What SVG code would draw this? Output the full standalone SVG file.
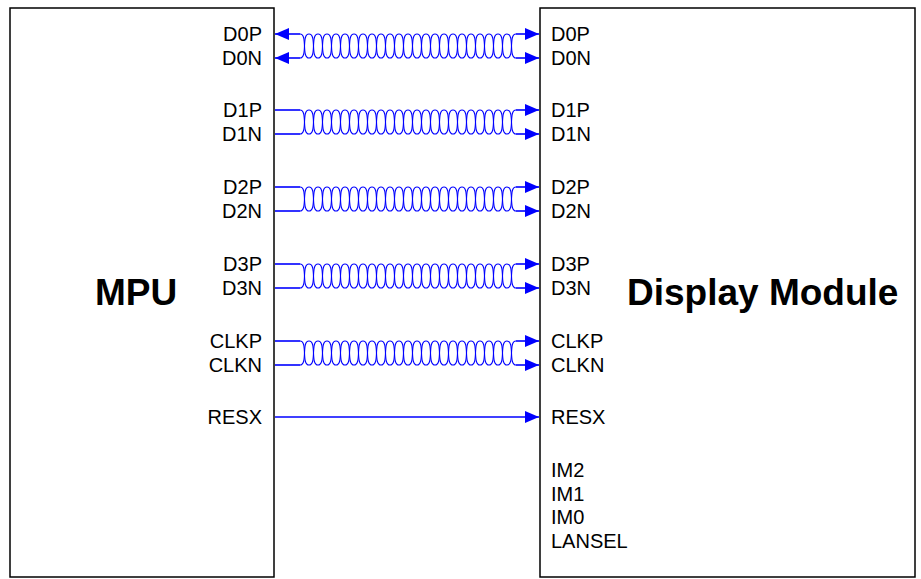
<svg xmlns="http://www.w3.org/2000/svg" width="921" height="579" viewBox="0 0 921 579">
<style>
.box{fill:#fff;stroke:#000;stroke-width:1.5}
.lbl{font-family:"Liberation Sans",Arial,sans-serif;font-size:20px;fill:#000}
.r{text-anchor:end}
.big{font-family:"Liberation Sans",Arial,sans-serif;font-size:37px;font-weight:bold;fill:#000}
.w{fill:none;stroke:#0000FF;stroke-width:1.1}
.s{fill:none;stroke:#0000FF;stroke-width:1.6}
</style>
<defs>
<marker id="ah" markerUnits="userSpaceOnUse" markerWidth="14" markerHeight="12" viewBox="0 0 14 12" refX="14" refY="6" orient="auto-start-reverse">
<path d="M0,0 L14,6 L0,12 z" fill="#0000FF"/>
</marker>
<path id="twA" d="M300,0 c8,0 1,24 9,24 c8,0 1,-24 9,-24 c8,0 1,24 9,24 c8,0 1,-24 9,-24 c8,0 1,24 9,24 c8,0 1,-24 9,-24 c8,0 1,24 9,24 c8,0 1,-24 9,-24 c8,0 1,24 9,24 c8,0 1,-24 9,-24 c8,0 1,24 9,24 c8,0 1,-24 9,-24 c8,0 1,24 9,24 c8,0 1,-24 9,-24 c8,0 1,24 9,24 c8,0 1,-24 9,-24 c8,0 1,24 9,24 c8,0 1,-24 9,-24 c8,0 1,24 9,24 c8,0 1,-24 9,-24 c8,0 1,24 9,24 c8,0 1,-24 9,-24 c8,0 1,24 9,24 c8,0 1,-24 9,-24"/>
<path id="twB" d="M300,24 c8,0 1,-24 9,-24 c8,0 1,24 9,24 c8,0 1,-24 9,-24 c8,0 1,24 9,24 c8,0 1,-24 9,-24 c8,0 1,24 9,24 c8,0 1,-24 9,-24 c8,0 1,24 9,24 c8,0 1,-24 9,-24 c8,0 1,24 9,24 c8,0 1,-24 9,-24 c8,0 1,24 9,24 c8,0 1,-24 9,-24 c8,0 1,24 9,24 c8,0 1,-24 9,-24 c8,0 1,24 9,24 c8,0 1,-24 9,-24 c8,0 1,24 9,24 c8,0 1,-24 9,-24 c8,0 1,24 9,24 c8,0 1,-24 9,-24 c8,0 1,24 9,24 c8,0 1,-24 9,-24 c8,0 1,24 9,24"/>
</defs>
<rect width="921" height="579" fill="#fff"/>

<g id="mpu">
<rect class="box" x="10" y="8" width="264" height="569"/>
<text class="big" x="95" y="305">MPU</text>
<text class="lbl r" x="262" y="41">D0P</text>
<text class="lbl r" x="262" y="65">D0N</text>
<text class="lbl r" x="262" y="117">D1P</text>
<text class="lbl r" x="262" y="141">D1N</text>
<text class="lbl r" x="262" y="194">D2P</text>
<text class="lbl r" x="262" y="218">D2N</text>
<text class="lbl r" x="262" y="271">D3P</text>
<text class="lbl r" x="262" y="295">D3N</text>
<text class="lbl r" x="262" y="348">CLKP</text>
<text class="lbl r" x="262" y="372">CLKN</text>
<text class="lbl r" x="262" y="424">RESX</text>
</g>

<g id="display">
<rect class="box" x="540" y="8" width="375" height="569"/>
<text class="big" x="627" y="305">Display Module</text>
<text class="lbl" x="551" y="41">D0P</text>
<text class="lbl" x="551" y="65">D0N</text>
<text class="lbl" x="551" y="117">D1P</text>
<text class="lbl" x="551" y="141">D1N</text>
<text class="lbl" x="551" y="194">D2P</text>
<text class="lbl" x="551" y="218">D2N</text>
<text class="lbl" x="551" y="271">D3P</text>
<text class="lbl" x="551" y="295">D3N</text>
<text class="lbl" x="551" y="348">CLKP</text>
<text class="lbl" x="551" y="372">CLKN</text>
<text class="lbl" x="551" y="424">RESX</text>
<text class="lbl" x="551" y="477">IM2</text>
<text class="lbl" x="551" y="500.5">IM1</text>
<text class="lbl" x="551" y="524">IM0</text>
<text class="lbl" x="551" y="547.5">LANSEL</text>
</g>

<g id="connectors">
<g transform="translate(0,34)">
<path class="s" d="M275,0 H300" marker-start="url(#ah)"/>
<path class="s" d="M275,24 H300" marker-start="url(#ah)"/>
<use href="#twA" class="w"/>
<use href="#twB" class="w"/>
<path class="s" d="M516,0 H539" marker-end="url(#ah)"/>
<path class="s" d="M516,24 H539" marker-end="url(#ah)"/>
</g>
<g transform="translate(0,110)">
<path class="s" d="M275,0 H300"/>
<path class="s" d="M275,24 H300"/>
<use href="#twA" class="w"/>
<use href="#twB" class="w"/>
<path class="s" d="M516,0 H539" marker-end="url(#ah)"/>
<path class="s" d="M516,24 H539" marker-end="url(#ah)"/>
</g>
<g transform="translate(0,187)">
<path class="s" d="M275,0 H300"/>
<path class="s" d="M275,24 H300"/>
<use href="#twA" class="w"/>
<use href="#twB" class="w"/>
<path class="s" d="M516,0 H539" marker-end="url(#ah)"/>
<path class="s" d="M516,24 H539" marker-end="url(#ah)"/>
</g>
<g transform="translate(0,264)">
<path class="s" d="M275,0 H300"/>
<path class="s" d="M275,24 H300"/>
<use href="#twA" class="w"/>
<use href="#twB" class="w"/>
<path class="s" d="M516,0 H539" marker-end="url(#ah)"/>
<path class="s" d="M516,24 H539" marker-end="url(#ah)"/>
</g>
<g transform="translate(0,341)">
<path class="s" d="M275,0 H300"/>
<path class="s" d="M275,24 H300"/>
<use href="#twA" class="w"/>
<use href="#twB" class="w"/>
<path class="s" d="M516,0 H539" marker-end="url(#ah)"/>
<path class="s" d="M516,24 H539" marker-end="url(#ah)"/>
</g>
<path class="s" d="M275,417 H539" marker-end="url(#ah)"/>
</g>
</svg>
